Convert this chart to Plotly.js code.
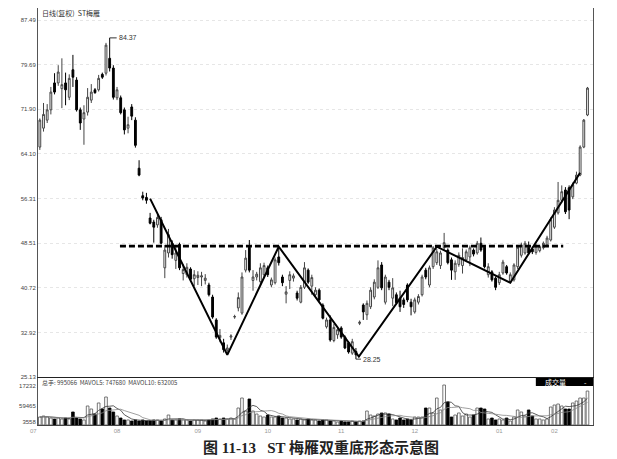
<!DOCTYPE html>
<html>
<head>
<meta charset="utf-8">
<script src="https://cdn.plot.ly/plotly-3.0.1.min.js"></script>
<style>
html,body{margin:0;padding:0;background:#fff;}
#chart{width:617px;height:459px;}
</style>
</head>
<body>
<div id="chart"></div>
<script>
// ---- Price data (OHLC) ----
const opens = [65.3,68.6,70.0,71.8,76.5,76.5,75.5,76.5,74.0,78.8,77.0,71.8,70.2,71.4,73.5,75.3,75.3,78.0,78.2,80.8,
79.1,73.9,73.9,71.8,68.6,72.3,70.0,61.6,56.8,56.5,52.9,52.2,51.7,52.6,44.2,46.8,48.5,45.5,48.3,43.2,
43.0,44.0,42.3,42.5,42.6,42.0,41.2,39.1,35.1,32.0,31.1,29.8,32.1,35.6,37.2,36.3,43.8,47.8,42.0,42.6,
41.8,43.0,44.2,41.2,41.6,46.1,42.6,39.6,42.0,42.4,39.8,38.2,40.8,43.8,41.0,39.5,40.3,37.7,33.9,35.1,
31.5,32.5,33.7,32.1,31.1,29.3,29.6,34.5,37.7,36.0,37.4,39.1,40.8,44.7,38.2,41.7,38.9,39.5,38.9,38.6,
41.2,38.2,36.5,38.2,39.5,43.8,41.2,44.4,45.1,44.6,47.7,47.3,45.6,43.5,44.8,44.6,45.6,46.1,47.3,46.8,
48.5,47.8,43.0,43.5,42.4,41.6,43.3,44.4,41.7,42.1,44.4,46.4,46.8,47.8,47.5,46.9,47.2,47.7,48.2,49.06,
51.3,53.8,56.0,57.8,58.2,56.6,59.0,60.4,65.3,70.9];
const closes = [70.0,71.0,71.8,74.9,74.9,78.4,76.2,75.3,77.3,77.5,71.8,69.5,71.3,74.0,74.9,74.8,77.3,77.5,83.1,79.1,
74.0,75.3,71.3,68.3,69.2,70.7,65.6,60.4,56.4,56.0,52.0,51.3,53.0,48.5,47.3,50.0,46.5,46.8,44.2,43.9,
44.3,42.2,43.0,42.9,42.8,42.4,39.5,35.6,32.1,32.4,29.9,30.2,32.3,35.7,39.0,42.6,45.9,43.8,42.6,43.1,
44.2,44.6,43.0,42.1,45.6,45.1,41.6,40.0,43.0,42.8,38.9,40.8,44.2,41.7,42.5,40.3,38.6,35.4,35.1,31.6,
33.8,33.4,32.1,30.2,29.5,31.3,29.0,34.7,36.5,38.0,40.3,41.7,44.2,40.7,42.6,40.8,40.7,38.1,37.4,37.8,
38.6,37.4,38.6,39.2,42.6,42.6,44.2,47.7,47.0,46.8,48.6,45.1,43.8,45.0,46.4,46.0,47.0,47.7,46.6,48.5,
47.3,44.4,44.4,42.1,40.8,43.0,45.2,43.3,43.0,44.7,47.8,48.2,48.5,46.8,47.0,48.0,47.9,48.5,49.4,52.6,
54.3,56.0,57.5,54.0,54.3,58.7,60.4,65.3,70.0,75.6];
const highs = [70.3,73.0,72.8,75.8,78.2,79.6,80.8,78.3,78.0,81.4,77.5,72.2,72.6,75.6,76.3,75.6,77.9,78.3,83.5,84.37,
79.6,75.8,74.3,72.2,70.6,72.8,70.5,63.0,57.5,57.3,53.8,52.6,53.6,53.1,48.2,51.0,49.0,48.2,48.6,44.8,
45.0,44.3,43.8,43.6,43.5,43.1,41.6,39.5,35.4,33.5,31.8,30.8,32.6,36.0,39.9,43.4,47.3,49.06,43.8,43.5,
45.0,45.1,44.6,42.5,46.0,47.8,43.0,41.0,43.6,43.2,40.2,41.2,45.2,44.1,43.0,40.8,40.6,38.0,35.5,35.9,
34.4,34.0,34.0,32.4,31.4,31.8,30.2,35.0,38.0,38.5,40.8,42.2,45.5,45.2,43.0,42.1,42.4,39.9,40.2,39.0,
41.5,38.8,39.0,39.6,43.0,44.2,44.6,48.0,47.5,47.2,50.3,47.6,46.0,45.5,46.9,47.6,47.4,48.1,47.6,48.9,
49.5,48.1,45.0,43.8,42.7,43.5,45.6,44.7,43.4,45.0,48.2,48.6,48.9,48.8,47.9,48.4,48.2,48.8,49.8,53.0,
54.8,59.2,58.6,58.3,58.6,59.1,61.0,65.6,70.2,75.8];
const lows = [64.8,68.0,69.5,71.0,74.5,76.0,72.1,72.6,73.5,75.8,71.5,68.3,65.7,70.8,73.0,74.6,75.0,77.2,77.8,78.5,
73.6,73.5,71.0,67.5,67.7,70.0,65.2,60.2,56.0,55.4,51.8,48.6,51.2,48.3,42.4,46.0,45.8,44.0,43.8,42.0,
42.5,41.8,41.0,41.2,41.0,41.3,39.2,35.3,31.8,31.2,29.4,29.0,31.6,35.3,36.6,36.0,43.4,43.4,40.2,42.0,
41.0,42.5,42.6,40.8,41.3,44.6,41.0,38.0,40.5,41.8,38.5,38.0,40.5,41.4,39.5,39.2,38.3,35.2,33.6,31.3,
31.2,31.8,31.8,30.0,29.2,29.0,28.25,34.2,35.1,35.1,37.0,38.7,40.5,40.3,37.8,40.3,37.5,37.8,36.5,37.2,
38.2,35.9,36.2,37.8,39.2,42.2,40.8,44.0,44.7,44.0,47.3,44.8,42.1,42.1,44.4,43.2,45.2,44.5,46.2,46.5,
47.0,44.1,42.5,41.8,40.3,41.2,43.0,43.0,41.5,41.8,44.0,46.0,46.5,46.5,46.6,46.5,46.9,47.4,47.9,48.8,
51.0,53.5,55.6,53.6,52.7,56.2,58.8,60.2,65.1,70.7];

// ---- Volume (thousand shares) ----
const volumes = [234,264,234,205,176,205,176,205,176,381,205,176,147,557,469,322,645,469,820,498,
381,264,205,147,147,117,147,117,147,117,117,147,147,117,176,293,147,147,176,147,
147,117,147,147,147,117,147,176,205,176,205,176,205,176,498,791,410,762,410,322,
264,234,293,234,234,264,205,205,176,176,147,176,147,176,147,147,117,147,147,117,
117,88,117,88,88,117,88,117,117,410,293,264,322,352,352,322,176,147,205,147,
176,147,234,234,234,498,498,352,791,440,1172,674,234,293,352,264,322,234,293,498,
498,469,176,205,147,176,147,205,117,234,440,381,264,440,264,176,176,147,176,527,
586,615,557,469,469,645,703,791,791,995];

// ---- Axis ticks and labels ----
const priceTicks = [25.13, 32.92, 40.72, 48.51, 56.31, 64.10, 71.90, 79.69, 87.49];
const volTickVals = [88, 557, 1143];
const volTickText = ['3558', '59465', '17232'];
const monthPos = [21, 43, 62, 82, 102, 125, 140];
const monthLabels = ['08', '09', '10', '11', '12', '01', '02'];

// ---- Hand-drawn pattern (W / double bottom) and neckline ----
const patternX = [30, 51, 65, 86.8, 108, 128, 147];
const patternY = [56.3, 29.0, 47.9, 28.7, 47.9, 41.6, 60.8];
const necklineX = [21.8, 142.4];
const necklineY = [48.0, 48.0];

const idx = opens.map((_, i) => i);
const upFlags = opens.map((o, i) => closes[i] >= o);

function sma(arr, n) {
  return arr.map((_, i) => {
    const s = Math.max(0, i - n + 1);
    const w = arr.slice(s, i + 1);
    return w.reduce((a, b) => a + b, 0) / w.length;
  });
}

const traces = [
  {
    type: 'candlestick', x: idx, open: opens, high: highs, low: lows, close: closes,
    xaxis: 'x', yaxis: 'y', whiskerwidth: 0, hoverinfo: 'skip',
    increasing: {line: {color: '#444', width: 1}, fillcolor: '#ffffff'},
    decreasing: {line: {color: '#000', width: 1}, fillcolor: '#000000'}
  },
  {
    type: 'scatter', mode: 'lines', x: necklineX, y: necklineY, xaxis: 'x', yaxis: 'y',
    line: {color: '#000', width: 2.6, dash: '6px,3px'}, hoverinfo: 'skip'
  },
  {
    type: 'scatter', mode: 'lines', x: patternX, y: patternY, xaxis: 'x', yaxis: 'y',
    line: {color: '#000', width: 2}, hoverinfo: 'skip'
  },
  {
    type: 'bar', x: idx, y: volumes, xaxis: 'x2', yaxis: 'y2', width: 0.72,
    marker: {
      color: upFlags.map(u => u ? '#ffffff' : '#000000'),
      line: {color: upFlags.map(u => u ? '#555' : '#000'), width: 0.8}
    },
    hoverinfo: 'skip'
  },
  {
    type: 'scatter', mode: 'lines', x: idx, y: sma(volumes, 5), xaxis: 'x2', yaxis: 'y2',
    line: {color: '#333', width: 0.8}, hoverinfo: 'skip'
  },
  {
    type: 'scatter', mode: 'lines', x: idx, y: sma(volumes, 10), xaxis: 'x2', yaxis: 'y2',
    line: {color: '#888', width: 0.8}, hoverinfo: 'skip'
  }
];

const tickFont = {family: 'Liberation Sans, Arial, sans-serif', size: 6, color: '#444'};
const cjk = 'Noto Sans CJK SC, sans-serif';

const layout = {
  width: 617, height: 459,
  margin: {l: 38, r: 24, t: 8, b: 34},
  paper_bgcolor: '#ffffff', plot_bgcolor: '#ffffff',
  showlegend: false,
  bargap: 0.25,
  xaxis: {
    domain: [0, 1], anchor: 'y', range: [-0.5, 150.5],
    showline: true, linecolor: '#222', linewidth: 1.2,
    showticklabels: false, ticks: '', showgrid: false, zeroline: false,
    rangeslider: {visible: false}, fixedrange: true
  },
  xaxis2: {
    domain: [0, 1], anchor: 'y2', range: [-0.5, 150.5],
    showline: true, linecolor: '#444', linewidth: 1,
    tickvals: monthPos, ticktext: monthLabels, ticks: '',
    tickfont: {family: 'Liberation Sans, Arial, sans-serif', size: 6, color: '#999'},
    showgrid: false, zeroline: false, rangeslider: {visible: false}, fixedrange: true
  },
  yaxis: {
    domain: [0.1151, 1], range: [25.13, 89.59],
    tickvals: priceTicks, tickformat: '.2f', ticks: '',
    tickfont: tickFont,
    showline: true, linecolor: '#555', linewidth: 1, mirror: true,
    showgrid: true, gridcolor: '#e6e6e6', griddash: 'dot', gridwidth: 1,
    zeroline: false, fixedrange: true
  },
  yaxis2: {
    domain: [0, 0.1127], range: [0, 1377],
    tickvals: volTickVals, ticktext: volTickText, ticks: '',
    tickfont: tickFont,
    showline: true, linecolor: '#555', linewidth: 1, mirror: true,
    showgrid: false, zeroline: false, fixedrange: true
  },
  shapes: [
    {type: 'rect', xref: 'paper', yref: 'paper', x0: 0.897, x1: 1.0, y0: 0.0935, y1: 0.113,
     fillcolor: '#000', line: {width: 0}}
  ],
  annotations: [
    {xref: 'paper', yref: 'paper', x: 0.004, y: 0.988, xanchor: 'left', yanchor: 'middle',
     text: '日线(复权)  ST梅雁', showarrow: false, font: {family: cjk, size: 7, color: '#333'}},
    {xref: 'x', yref: 'y', x: 19, y: 84.37, text: '84.37', showarrow: true, arrowhead: 0,
     arrowwidth: 1, arrowcolor: '#333', ax: 7, ay: 0, xanchor: 'left',
     font: {family: 'Liberation Sans, Arial, sans-serif', size: 7, color: '#333'}},
    {xref: 'x', yref: 'y', x: 86, y: 28.25, text: '28.25', showarrow: true, arrowhead: 0,
     arrowwidth: 1, arrowcolor: '#333', ax: 5, ay: 0, xanchor: 'left',
     font: {family: 'Liberation Sans, Arial, sans-serif', size: 7, color: '#333'}},
    {xref: 'paper', yref: 'paper', x: 0.004, y: 0.103, xanchor: 'left', yanchor: 'middle',
     text: '总手: 995066  MAVOL5: 747680  MAVOL10: 632005', showarrow: false,
     font: {family: cjk, size: 6, color: '#444'}},
    {xref: 'paper', yref: 'paper', x: 0.933, y: 0.1033, xanchor: 'center', yanchor: 'middle',
     text: '成交量', showarrow: false, font: {family: cjk, size: 7, color: '#fff'}},
    {xref: 'paper', yref: 'paper', x: 0.986, y: 0.1033, xanchor: 'center', yanchor: 'middle',
     text: '-', showarrow: false, font: {family: cjk, size: 7, color: '#fff'}},
    {xref: 'paper', yref: 'paper', x: -0.009, y: -0.0144, xanchor: 'center', yanchor: 'middle',
     text: '07', showarrow: false, font: {family: 'Liberation Sans, Arial, sans-serif', size: 6, color: '#999'}},
    {xref: 'paper', yref: 'paper', x: 0.51, y: -0.053, xanchor: 'center', yanchor: 'middle',
     text: '<b>图 11-13   ST 梅雁双重底形态示意图</b>', showarrow: false,
     font: {family: 'Liberation Serif, Noto Sans CJK SC, serif', size: 15, color: '#222'}}
  ]
};

Plotly.newPlot('chart', traces, layout, {staticPlot: true, displayModeBar: false});
</script>
</body>
</html>
